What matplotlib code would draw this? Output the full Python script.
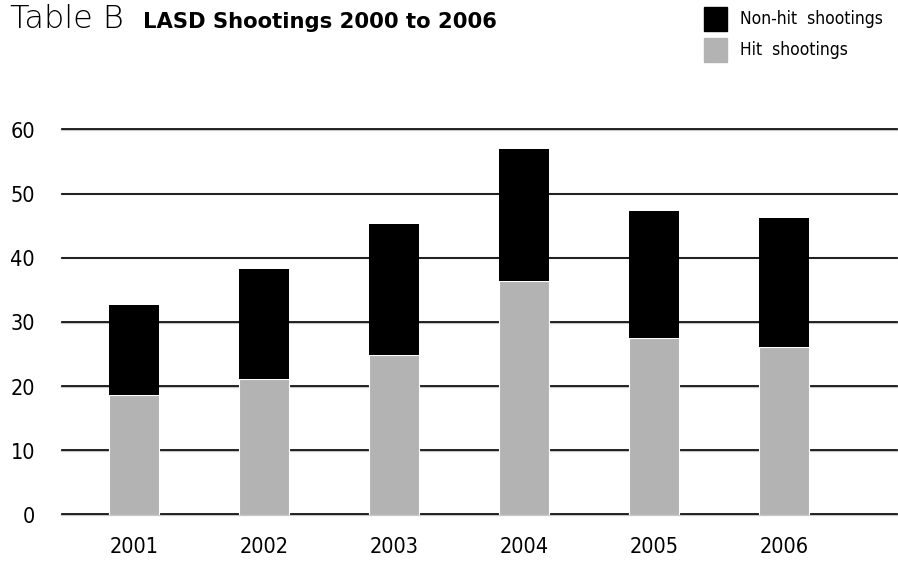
import matplotlib
matplotlib.use("Agg")
import matplotlib.pyplot as plt
from matplotlib.patches import Rectangle

years = ["2001", "2002", "2003", "2004", "2005", "2006"]
hit = [18.7, 21.2, 24.9, 36.4, 27.6, 26.2]
total = [32.7, 38.3, 45.3, 57.0, 47.4, 46.3]
nonhit = [t - h for t, h in zip(total, hit)]
yticks = [0, 10, 20, 30, 40, 50, 60]

plt.rcParams["font.family"] = ["DejaVu Sans"]
plt.rcParams["font.stretch"] = "condensed"

fig = plt.figure(figsize=(8.98, 5.61), dpi=100)
ax = fig.add_axes([62/898, 1 - 515/561, (897-62)/898, (515-130)/561])

x = list(range(len(years)))
ax.bar(x, hit, width=0.38, color="#b3b3b3", edgecolor="white", linewidth=0.8, zorder=3)
ax.bar(x, nonhit, bottom=hit, width=0.38, color="black", edgecolor="black", linewidth=0, zorder=3)

for v in yticks:
    ax.axhline(v, color="#c8c8c8", lw=1.6, zorder=1, clip_on=False)
    ax.axhline(v + 0.08, color="black", lw=1.2, zorder=2, clip_on=False)

ax.set_xlim(-0.554, 5.87)
ax.set_ylim(0, 60)
ax.set_yticks(yticks)
ax.set_yticklabels([str(v) for v in yticks], fontsize=15.5)
ax.set_xticks(x)
ax.set_xticklabels(years, fontsize=15.5)
ax.tick_params(axis="both", length=0)
ax.tick_params(axis="y", pad=19.4)
ax.tick_params(axis="x", pad=16)
for s in ax.spines.values():
    s.set_visible(False)

fig.text(10/898, 1 - 28/561, "Table B", fontsize=23, fontweight=200, fontstretch="normal",
         va="baseline", ha="left")
fig.text(143/898, 1 - 28/561, "LASD Shootings 2000 to 2006", fontsize=15.2, fontweight="bold",
         fontstretch="normal", va="baseline", ha="left")

# legend
fig.patches.append(Rectangle((704/898, 1 - 31/561), 23/898, 24/561, transform=fig.transFigure, color="black"))
fig.patches.append(Rectangle((704/898, 1 - 62/561), 23/898, 24/561, transform=fig.transFigure, color="#b3b3b3"))
fig.text(740/898, 1 - 19/561, "Non-hit  shootings", fontsize=12.5, va="center", ha="left")
fig.text(740/898, 1 - 50/561, "Hit  shootings", fontsize=12.5, va="center", ha="left")

fig.savefig("out.png", dpi=100)
